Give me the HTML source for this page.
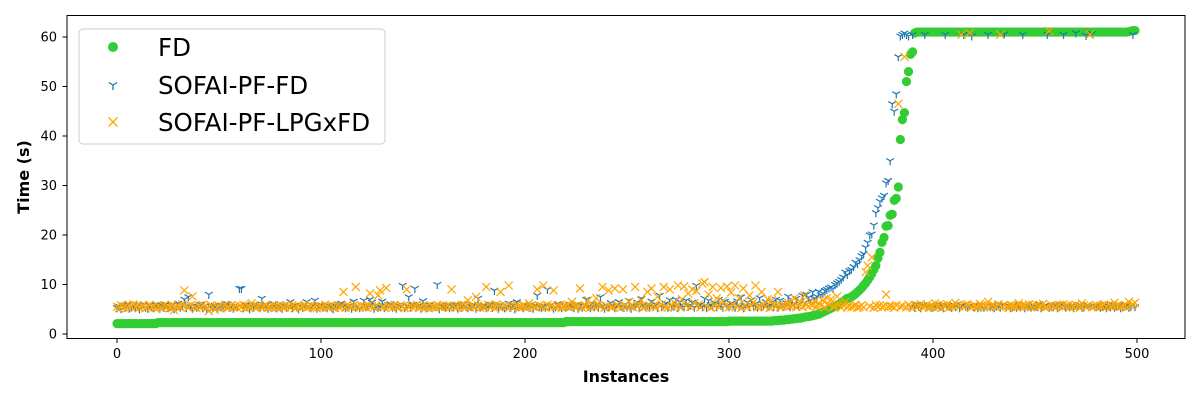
<!DOCTYPE html>
<html><head><meta charset="utf-8"><style>
body{margin:0;background:#fff;}
svg{display:block;font-family:"DejaVu Sans","Liberation Sans",sans-serif;}
</style></head><body>
<svg id="chart" width="1200" height="400">
<rect x="0" y="0" width="1200" height="400" fill="#fff"/>
<g id="marks"></g>
<g id="axes"></g>
<rect x="67" y="15.5" width="1118" height="323" fill="none" stroke="#000" stroke-width="1"/>
<text x="626" y="382" font-size="16" font-weight="bold" text-anchor="middle">Instances</text>
<text x="0" y="0" font-size="16" font-weight="bold" text-anchor="middle" transform="translate(29,177) rotate(-90)">Time (s)</text>
<g>
<rect x="79" y="29" width="306" height="115" rx="4" fill="#fff" fill-opacity="0.85" stroke="#ccc"/>
<g><circle cx="113" cy="47" r="5" fill="#32cd32"/><text x="158" y="56" font-size="24.5">FD</text></g>
<g><path d="M113 85 L113 90 M113 85 L108.7 82.5 M113 85 L117.3 82.5" stroke="#1f77b4" stroke-width="1.3" fill="none"/><text x="158" y="94" font-size="24.5">SOFAI-PF-FD</text></g>
<g><path d="M108.5 117.5 L117.5 126.5 M117.5 117.5 L108.5 126.5" stroke="#ffa500" stroke-width="1.3"/><text x="158" y="131" font-size="24.5">SOFAI-PF-LPGxFD</text></g>
</g>
</svg>
<script>
const xTicks=[0,100,200,300,400,500];
const yTicks=[0,10,20,30,40,50,60];
const fdValues=[
2.1,2.1,2.1,2.1,2.1,2.1,2.1,2.1,2.1,2.1,2.1,2.1,2.1,2.1,2.1,2.1,2.1,2.1,2.1,2.1,
2.3,2.3,2.3,2.3,2.3,2.3,2.3,2.3,2.3,2.3,2.3,2.3,2.3,2.3,2.3,2.3,2.3,2.3,2.3,2.3,
2.3,2.3,2.3,2.3,2.3,2.3,2.3,2.3,2.3,2.3,2.3,2.3,2.3,2.3,2.3,2.3,2.3,2.3,2.3,2.3,
2.3,2.3,2.3,2.3,2.3,2.3,2.3,2.3,2.3,2.3,2.3,2.3,2.3,2.3,2.3,2.3,2.3,2.3,2.3,2.3,
2.3,2.3,2.3,2.3,2.3,2.3,2.3,2.3,2.3,2.3,2.3,2.3,2.3,2.3,2.3,2.3,2.3,2.3,2.3,2.3,
2.3,2.3,2.3,2.3,2.3,2.3,2.3,2.3,2.3,2.3,2.3,2.3,2.3,2.3,2.3,2.3,2.3,2.3,2.3,2.3,
2.3,2.3,2.3,2.3,2.3,2.3,2.3,2.3,2.3,2.3,2.3,2.3,2.3,2.3,2.3,2.3,2.3,2.3,2.3,2.3,
2.3,2.3,2.3,2.3,2.3,2.3,2.3,2.3,2.3,2.3,2.3,2.3,2.3,2.3,2.3,2.3,2.3,2.3,2.3,2.3,
2.3,2.3,2.3,2.3,2.3,2.3,2.3,2.3,2.3,2.3,2.3,2.3,2.3,2.3,2.3,2.3,2.3,2.3,2.3,2.3,
2.3,2.3,2.3,2.3,2.3,2.3,2.3,2.3,2.3,2.3,2.3,2.3,2.3,2.3,2.3,2.3,2.3,2.3,2.3,2.3,
2.3,2.3,2.3,2.3,2.3,2.3,2.3,2.3,2.3,2.3,2.3,2.3,2.3,2.3,2.3,2.3,2.3,2.3,2.3,2.3,
2.5,2.5,2.5,2.5,2.5,2.5,2.5,2.5,2.5,2.5,2.5,2.5,2.5,2.5,2.5,2.5,2.5,2.5,2.5,2.5,
2.5,2.5,2.5,2.5,2.5,2.5,2.5,2.5,2.5,2.5,2.5,2.5,2.5,2.5,2.5,2.5,2.5,2.5,2.5,2.5,
2.5,2.5,2.5,2.5,2.5,2.5,2.5,2.5,2.5,2.5,2.5,2.5,2.5,2.5,2.5,2.5,2.5,2.5,2.5,2.5,
2.5,2.5,2.5,2.5,2.5,2.5,2.5,2.5,2.5,2.5,2.5,2.5,2.5,2.5,2.5,2.5,2.5,2.5,2.5,2.5,
2.6,2.6,2.6,2.6,2.6,2.6,2.6,2.6,2.6,2.6,2.6,2.6,2.6,2.6,2.6,2.6,2.6,2.6,2.6,2.6,
2.6,2.6,2.7,2.7,2.7,2.8,2.8,2.8,2.9,2.9,3.0,3.0,3.1,3.1,3.2,3.2,3.3,3.4,3.5,3.5,
3.6,3.7,3.8,3.9,4.0,4.2,4.4,4.6,4.8,5.0,5.2,5.4,5.6,5.8,6.0,6.3,6.6,6.9,7.2,7.3,
7.5,7.8,8.1,8.5,8.9,9.3,9.8,10.3,10.9,11.5,12.2,13.0,13.8,15.3,16.5,18.5,19.5,21.8,21.9,24.0,
24.2,27.0,27.4,29.7,39.3,43.3,44.7,51.0,53.0,56.5,57.0,60.8,61,61,61,61,61,61,61,61,
61,61,61,61,61,61,61,61,61,61,61,61,61,61,61,61,61,61,61,61,
61,61,61,61,61,61,61,61,61,61,61,61,61,61,61,61,61,61,61,61,
61,61,61,61,61,61,61,61,61,61,61,61,61,61,61,61,61,61,61,61,
61,61,61,61,61,61,61,61,61,61,61,61,61,61,61,61,61,61,61,61,
61,61,61,61,61,61,61,61,61,61,61,61,61,61,61,61,61.1,61.2,61.3,61.3];
const pfFdValues=[
5.3,5.6,5.1,5.8,5.4,6.0,5.2,5.5,5.9,5.3,5.7,5.1,5.6,6.1,5.4,5.2,5.8,5.5,5.3,5.9,
5.6,5.2,5.7,5.4,6.0,5.3,5.5,5.8,5.1,5.6,6.2,5.4,5.9,7.0,5.3,7.5,5.6,5.2,5.8,5.4,
5.5,6.0,5.3,5.7,5.1,8.0,5.6,5.4,5.8,5.2,5.9,5.5,5.3,5.7,6.1,5.4,5.6,5.2,5.8,5.5,
9.2,9.2,5.3,5.9,5.5,5.1,5.7,5.4,6.0,5.6,5.3,7.2,5.5,5.8,5.2,5.6,5.4,6.1,5.3,5.7,
5.5,5.2,5.9,5.4,5.6,6.5,5.3,5.8,5.5,5.1,5.7,5.4,6.0,6.5,5.6,5.3,5.8,6.8,5.2,5.5,
5.9,5.4,5.6,5.3,5.8,5.5,5.1,5.7,5.4,6.0,6.2,5.6,5.3,5.5,5.8,5.2,6.6,5.4,5.7,5.3,
5.9,6.8,5.5,5.6,7.0,6.4,5.2,5.8,5.4,5.5,6.6,5.3,5.7,5.9,6.1,5.4,5.6,5.2,5.8,5.5,
9.8,5.3,5.7,7.5,5.4,6.0,9.2,5.5,5.8,5.2,6.7,5.6,5.3,5.9,5.4,5.7,5.5,10.0,5.1,5.8,
5.6,5.4,6.0,5.3,5.7,5.5,5.9,5.2,5.8,5.4,6.1,5.6,5.3,5.7,5.5,5.9,5.2,7.2,5.4,5.6,
5.8,5.3,5.5,6.0,5.4,8.8,5.7,5.2,5.9,5.5,5.3,5.6,6.2,5.4,5.8,5.1,6.5,5.5,5.7,5.3,
5.9,5.6,5.4,6.0,5.2,5.8,7.8,5.5,5.3,5.7,5.4,9.0,5.6,5.9,5.2,5.5,6.1,5.8,5.3,5.7,
5.4,5.6,6.0,5.5,5.3,5.9,5.2,5.8,5.4,5.7,7.0,5.6,5.3,6.2,5.5,5.9,5.4,7.5,5.6,5.2,
5.8,5.5,6.3,5.7,5.3,5.9,6.5,5.6,5.4,6.0,5.5,6.8,5.2,5.8,5.6,6.4,5.3,7.2,5.9,5.5,
5.7,5.4,6.6,5.6,6.0,5.3,7.8,5.5,5.8,6.2,5.4,6.9,5.7,5.6,7.0,5.3,6.5,5.9,5.5,6.8,
5.6,5.8,6.4,5.4,9.8,5.7,6.0,5.5,7.2,5.3,6.8,5.9,5.6,6.3,5.5,7.0,5.8,5.4,6.6,5.7,
5.5,6.2,5.9,5.4,6.7,5.6,7.5,5.3,5.8,6.4,5.5,6.9,5.7,6.1,5.4,7.3,5.6,5.9,6.5,5.5,
5.8,6.4,5.6,7.0,5.4,6.8,5.9,5.7,6.3,7.6,5.5,6.9,6.0,7.2,5.8,6.6,7.8,6.3,8.0,7.4,
6.8,8.5,7.2,7.6,8.6,7.9,8.2,8.8,9.0,9.3,9.5,9.2,10.0,10.3,10.6,11.0,11.5,12.5,12.0,12.8,
13.0,13.6,14.5,14.2,15.0,15.8,16.2,17.5,18.5,20.0,20.2,22.0,24.5,25.5,26.8,27.5,28.0,30.5,31.0,35.0,
46.5,45.0,48.5,56.0,60.2,60.5,60.8,60.5,60.2,5.5,60.5,5.4,6.0,5.6,5.3,5.9,60.5,5.5,5.7,5.4,
5.4,5.6,6.0,5.5,5.8,5.3,60.5,5.7,5.6,5.4,5.9,5.5,6.1,5.3,5.8,60.5,5.6,5.4,5.7,60.2,
5.5,5.9,5.3,5.6,6.0,5.4,5.8,60.5,5.5,5.7,5.3,5.6,6.1,5.4,5.9,60.6,5.5,5.8,5.3,5.7,
5.6,5.4,6.0,5.5,60.5,5.3,5.8,5.6,5.4,5.9,5.7,5.5,6.1,5.3,5.6,5.8,60.5,5.4,5.7,5.5,
5.9,5.3,5.6,6.0,60.5,5.4,5.8,5.5,5.7,5.3,60.8,5.6,5.9,5.4,5.5,60.3,5.8,5.6,60.7,5.7,
5.5,5.8,5.4,5.6,5.9,5.3,5.7,5.5,6.0,5.4,5.6,5.8,5.3,5.5,5.7,5.9,5.4,5.6,60.5,5.5];
const lpgValues=[
5.5,5.2,5.8,5.4,5.6,5.3,5.9,5.5,6.0,5.4,5.7,5.3,5.6,5.8,5.2,5.5,5.9,5.4,5.6,5.3,
5.7,5.5,5.2,5.8,5.4,5.6,5.3,5.9,4.8,5.5,5.7,5.4,6.0,8.8,5.6,5.3,5.8,7.6,5.5,5.2,
5.7,5.4,5.9,5.6,5.3,4.6,5.8,5.5,4.9,5.4,5.7,5.2,5.6,5.9,5.3,5.5,5.8,5.4,5.6,5.3,
5.7,5.5,5.9,5.2,5.6,5.4,6.2,5.8,5.3,5.5,5.7,5.4,5.6,5.9,5.3,5.5,5.8,5.2,5.6,5.4,
5.7,5.5,5.3,5.9,5.6,5.4,5.8,5.2,5.5,5.7,5.4,5.6,5.9,5.3,5.5,5.8,5.4,5.6,5.2,5.7,
5.5,5.3,5.9,5.6,5.4,5.8,5.5,5.2,5.7,5.4,5.6,8.5,5.3,5.9,5.5,5.4,5.8,9.5,5.6,5.3,
5.7,5.5,5.4,5.9,8.2,5.6,5.3,5.8,7.8,8.8,5.5,5.4,9.3,5.7,5.6,5.3,5.9,5.5,5.4,5.8,
5.6,5.2,9.0,5.5,5.7,5.4,5.6,5.9,5.3,5.5,5.8,5.4,5.6,5.2,5.7,5.5,5.3,5.9,5.6,5.4,
5.8,5.5,5.7,5.3,9.0,5.6,5.4,5.8,5.5,5.9,5.3,5.6,6.8,5.4,5.7,5.5,7.5,5.8,5.3,5.6,
5.4,9.5,5.9,5.5,5.7,5.3,6.0,5.6,8.5,5.4,5.8,5.5,9.8,5.7,5.3,5.6,5.9,5.4,5.5,5.8,
5.6,5.3,6.2,5.7,5.5,5.4,9.0,5.8,5.6,9.8,5.3,5.9,5.5,5.7,8.8,5.4,5.6,5.8,5.3,5.5,
5.7,5.9,5.4,6.5,5.6,5.5,5.8,9.2,5.3,5.7,5.6,6.8,5.4,5.9,5.5,7.2,5.8,5.6,9.5,5.3,
5.7,8.8,5.5,5.4,9.2,5.9,5.6,5.3,9.0,5.8,5.5,6.5,5.7,5.4,9.5,5.6,5.9,6.8,5.3,5.5,
8.5,5.8,9.2,5.6,5.4,7.5,5.7,6.0,9.5,5.5,5.3,9.0,5.8,6.4,5.6,9.8,5.4,7.0,9.6,5.7,
8.2,5.5,9.0,6.2,8.7,5.9,5.4,10.2,10.5,5.6,8.0,5.3,9.5,5.8,7.2,5.5,9.3,6.6,5.7,9.6,
5.4,8.4,5.9,9.8,5.6,7.2,5.3,9.2,5.8,5.5,7.8,5.7,6.4,9.8,5.4,5.6,8.5,5.9,5.5,7.0,
5.3,6.8,5.8,5.6,8.5,5.4,5.7,5.9,5.5,6.3,5.6,5.8,7.2,5.4,5.7,6.5,5.5,7.8,5.9,5.6,
6.0,5.8,6.6,5.5,6.2,5.7,6.8,5.4,7.3,5.9,7.0,5.5,5.6,7.6,6.0,5.3,5.8,6.5,5.5,5.7,
5.4,5.6,5.9,5.3,5.5,5.8,5.4,12.5,13.8,5.6,15.5,5.3,5.9,5.5,5.8,5.4,5.6,8.0,5.5,5.7,
5.6,5.3,5.8,46.5,5.5,5.7,56.0,5.4,5.9,5.6,5.3,5.8,5.5,5.7,6.0,5.4,5.6,5.9,5.3,5.5,
5.6,6.2,5.5,5.9,5.3,5.8,5.6,6.0,5.4,5.7,5.5,6.3,5.8,5.6,60.5,5.4,5.9,6.0,60.8,5.5,
5.7,5.6,5.3,6.1,5.8,5.4,5.6,6.5,5.5,5.9,5.7,5.4,6.0,60.5,5.6,5.8,5.5,5.3,5.9,5.7,
5.6,5.4,6.2,5.5,5.8,5.7,5.6,6.0,5.4,5.9,5.5,5.8,5.6,5.7,6.1,5.3,5.5,61.2,5.8,5.6,
5.4,5.7,5.9,5.5,6.0,5.6,5.8,5.4,5.7,5.5,5.9,5.6,5.3,6.2,5.8,5.5,5.7,60.5,5.4,5.6,
5.9,5.5,5.7,5.6,6.0,5.4,5.8,5.5,5.6,6.3,5.7,5.9,5.5,5.6,5.8,5.4,6.5,5.7,6.0,6.3];

const NS='http://www.w3.org/2000/svg';
const X0=117,XS=(1137-117)/500,Y0=334,YS=(334-37)/60;
function xScale(v){return X0+v*XS;}
function yScale(v){return Y0-v*YS;}
const axes=document.getElementById('axes');
const marks=document.getElementById('marks');
function mk(tag,attrs,parent){const e=document.createElementNS(NS,tag);for(const k in attrs)e.setAttribute(k,attrs[k]);parent.appendChild(e);return e;}
xTicks.forEach(t=>{
  const x=xScale(t);
  const l=mk('line',{x1:x,x2:x,y1:338.5,y2:343,stroke:'#000'},axes);
  
  
  const tx=mk('text',{x:x,y:358,'font-size':13,'text-anchor':'middle'},axes);
  tx.textContent=t;
  
  
});
yTicks.forEach(t=>{
  const y=yScale(t);
  const l=mk('line',{x1:62.5,x2:67,y1:y,y2:y,stroke:'#000'},axes);
  
  
  const tx=mk('text',{x:57,y:y+4.5,'font-size':13,'text-anchor':'end'},axes);
  tx.textContent=t;
  
  
});
const gFd=mk('g',{fill:'#32cd32'},marks);


fdValues.forEach((v,i)=>{
  const c=mk('circle',{cx:xScale(i),cy:yScale(v),r:4.6},gFd);
  
  
});
const gPf=mk('g',{stroke:'#1f77b4','stroke-width':1.2,fill:'none'},marks);


pfFdValues.forEach((v,i)=>{
  const x=xScale(i),y=yScale(v);
  const p=mk('path',{d:`M${x} ${y} L${x} ${y+4.5} M${x} ${y} L${x-3.9} ${y-2.25} M${x} ${y} L${x+3.9} ${y-2.25}`},gPf);
  
  
});
const gL=mk('g',{stroke:'#ffa500','stroke-width':1.2,fill:'none'},marks);


lpgValues.forEach((v,i)=>{
  const x=xScale(i),y=yScale(v),s=4;
  const p=mk('path',{d:`M${x-s} ${y-s} L${x+s} ${y+s} M${x+s} ${y-s} L${x-s} ${y+s}`},gL);
  
  
});
</script>
</body></html>
